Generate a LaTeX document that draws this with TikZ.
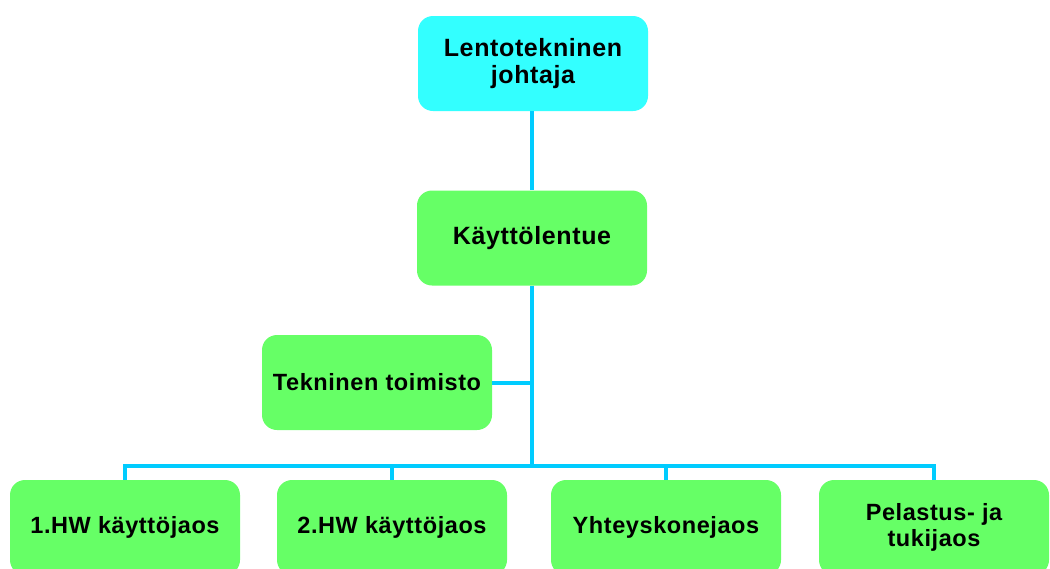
\documentclass[tikz,border=0pt]{standalone}
\usepackage{fontspec}
\setmainfont{Liberation Sans}[LetterSpace=2.5]
\definecolor{cyanbox}{HTML}{33FFFF}
\definecolor{greenbox}{HTML}{66FF66}
\definecolor{linec}{HTML}{00CCFF}
\begin{document}
\begin{tikzpicture}[x=1pt,y=-1pt,
  box/.style={rounded corners=15pt, minimum width=230pt, minimum height=95pt,
    inner sep=0pt, align=center, font=\fontsize{23.5}{26.5}\selectfont\bfseries},
  bigbox/.style={box, font=\fontsize{25}{27}\selectfont\bfseries},
  conn/.style={draw=linec, line width=4pt}]
\useasboundingbox (0,0) rectangle (1050,568);
\node[bigbox, fill=cyanbox] (top) at (533,63.5) {Lentotekninen\\johtaja};
\node[bigbox, fill=greenbox] (mid) at (532,238) {Käyttölentue};
\node[box, fill=greenbox] (tek) at (377,382.5) {Tekninen toimisto};
\node[box, fill=greenbox] (b1) at (125,527.5) {1.HW käyttöjaos};
\node[box, fill=greenbox] (b2) at (392,527.5) {2.HW käyttöjaos};
\node[box, fill=greenbox] (b3) at (666,527.5) {Yhteyskonejaos};
\node[box, fill=greenbox] (b4) at (934,527.5) {Pelastus- ja\\tukijaos};
\coordinate (bar) at (532,466);
\coordinate (j) at (tek.east -| bar);
\draw[conn] (top.south -| mid.north) -- (mid.north);
\draw[conn] (mid.south) -- (bar);
\draw[conn] (tek.east) -- (j);
\draw[conn] (bar) -| (b1.north);
\draw[conn] (bar) -| (b4.north);
\draw[conn] (b2.north |- bar) -- (b2.north);
\draw[conn] (b3.north |- bar) -- (b3.north);
\end{tikzpicture}
\end{document}
